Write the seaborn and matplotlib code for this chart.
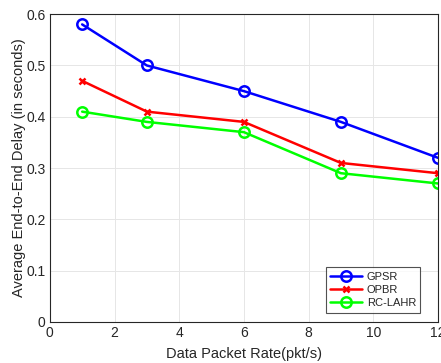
import matplotlib
matplotlib.use("Agg")
import matplotlib.pyplot as plt
import seaborn as sns
import pandas as pd

rates = [1, 3, 6, 9, 12]
gpsr = [0.58, 0.50, 0.45, 0.39, 0.32]
opbr = [0.47, 0.41, 0.39, 0.31, 0.29]
rclahr = [0.41, 0.39, 0.37, 0.29, 0.27]

series = ["GPSR", "OPBR", "RC-LAHR"]
colors = {"GPSR": "#0000ff", "OPBR": "#ff0000", "RC-LAHR": "#00ff00"}
markers = {"GPSR": "o", "OPBR": "x", "RC-LAHR": "o"}

df = pd.DataFrame({
    "rate": rates * 3,
    "delay": gpsr + opbr + rclahr,
    "protocol": sum([[s] * len(rates) for s in series], []),
})

sns.set_theme(style="whitegrid")
plt.rcParams["font.family"] = ["Liberation Sans", "DejaVu Sans"]

fig = plt.figure(figsize=(4.41, 3.63), dpi=100)
ax = fig.add_axes([0.113, 0.113, 0.88, 0.848])

for s in series:
    sub = df[df["protocol"] == s]
    sns.lineplot(data=sub, x="rate", y="delay", ax=ax, color=colors[s],
                 marker=markers[s], markersize=7.5 if markers[s] == "o" else 5,
                 markerfacecolor="none", markeredgecolor=colors[s],
                 markeredgewidth=1.8, linewidth=1.8, label=s)

ax.set_xlim(0, 12)
ax.set_ylim(0, 0.6)
ax.set_xticks([0, 2, 4, 6, 8, 10, 12])
ax.set_yticks([0, 0.1, 0.2, 0.3, 0.4, 0.5, 0.6])
ax.set_yticklabels(["0", "0.1", "0.2", "0.3", "0.4", "0.5", "0.6"])
ax.set_xlabel("Data Packet Rate(pkt/s)", fontsize=10.5, color="#262626", labelpad=5)
ax.set_ylabel("Average End-to-End Delay (in seconds)", fontsize=10.5, color="#262626",
              labelpad=0)
ax.tick_params(axis="both", labelsize=10, colors="#262626", direction="in", length=3,
               pad=3)
ax.grid(True, color="#e6e6e6", linewidth=0.7)
ax.set_facecolor("white")
for sp in ax.spines.values():
    sp.set_color("#262626")
    sp.set_linewidth(0.8)

leg = ax.legend(loc="lower right", bbox_to_anchor=(0.955, 0.03), borderaxespad=0,
                fontsize=8, frameon=True, fancybox=False, edgecolor="#262626",
                handlelength=2.9, borderpad=0.4, labelspacing=0.3,
                handletextpad=0.4)
leg.get_frame().set_linewidth(0.8)

fig.savefig("out.png", dpi=100, facecolor="white")
